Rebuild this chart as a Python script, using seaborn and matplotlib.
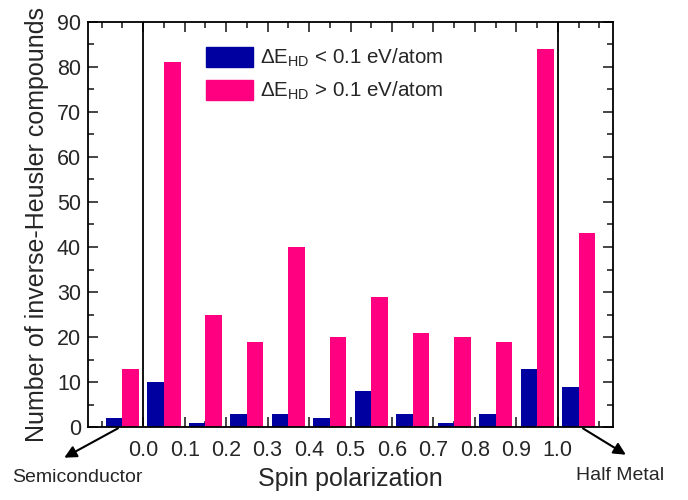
import numpy as np
import pandas as pd
import seaborn as sns
import matplotlib.pyplot as plt
import matplotlib.patches as mpatches
from matplotlib.ticker import MultipleLocator, FixedLocator

# bin centres of spin polarization (first bin = semiconductor, last = half metal)
centres = [-0.05, 0.05, 0.15, 0.25, 0.35, 0.45, 0.55, 0.65, 0.75, 0.85, 0.95, 1.05]
low_dE = [2, 10, 1, 3, 3, 2, 8, 3, 1, 3, 13, 9]
high_dE = [13, 81, 25, 19, 40, 20, 29, 21, 20, 19, 84, 43]
tick_vals = [0.0, 0.1, 0.2, 0.3, 0.4, 0.5, 0.6, 0.7, 0.8, 0.9, 1.0]
lab_low = r'ΔE$_{HD}$ < 0.1 eV/atom'
lab_high = r'ΔE$_{HD}$ > 0.1 eV/atom'

df = pd.DataFrame({'pol': centres * 2,
                   'count': low_dE + high_dE,
                   'grp': [lab_low] * len(centres) + [lab_high] * len(centres)})

sns.set_style('ticks')
plt.rcParams['font.family'] = ['Liberation Sans', 'DejaVu Sans']
plt.rcParams['mathtext.default'] = 'regular'

my_cols = {lab_low: '#0000A0', lab_high: '#FF0080'}

fig = plt.figure(figsize=(6.88, 5), dpi=100)
ax = fig.add_axes([0.128, 0.146, 0.763, 0.81])
sns.barplot(ax=ax, data=df, x='pol', y='count', hue='grp', palette=my_cols,
            native_scale=True, width=0.8, saturation=1, gap=0, linewidth=0,
            legend=False)

ax.axvline(0.0, color='k', lw=1.3, zorder=5)
ax.axvline(1.0, color='k', lw=1.3, zorder=5)

ax.set_xlim(-0.133, 1.133)
ax.set_ylim(0, 90)
ax.xaxis.set_major_locator(FixedLocator(tick_vals))
ax.set_xticklabels(['%.1f' % t for t in tick_vals])
ax.xaxis.set_minor_locator(MultipleLocator(0.05))
ax.yaxis.set_major_locator(MultipleLocator(10))
ax.yaxis.set_minor_locator(MultipleLocator(5))
ax.tick_params(which='both', direction='in', top=True, right=True, labelsize=15.5, width=1.2)
ax.tick_params(which='major', length=7)
ax.tick_params(which='minor', length=4)
ax.tick_params(axis='x', which='major', pad=9)
ax.tick_params(axis='y', which='major', pad=5)
for s in ax.spines.values():
    s.set_linewidth(1.3)
    s.set_color('k')

ax.set_xlabel('Spin polarization', fontsize=18, labelpad=5)
ax.set_ylabel('Number of inverse-Heusler compounds', fontsize=18, labelpad=6)

h1 = mpatches.Patch(color=my_cols[lab_low], label=lab_low)
h2 = mpatches.Patch(color=my_cols[lab_high], label=lab_high)
ax.legend(handles=[h1, h2], loc='upper left', bbox_to_anchor=(0.19, 0.985), frameon=False,
          fontsize=14.8, handlelength=2.25, handleheight=1.12, labelspacing=0.55, handletextpad=0.35)

# arrows marking the semiconductor and half-metal bins
ax.annotate('', xy=(-0.05, -0.079), xycoords='axes fraction', xytext=(-0.055, 0), textcoords='data',
            arrowprops=dict(arrowstyle='-|>', color='k', lw=1.5, mutation_scale=18), annotation_clip=False)
ax.annotate('', xy=(1.029, -0.072), xycoords='axes fraction', xytext=(1.055, 0), textcoords='data',
            arrowprops=dict(arrowstyle='-|>', color='k', lw=1.5, mutation_scale=18), annotation_clip=False)
fig.text(0.112, 0.046, 'Semiconductor', ha='center', va='center', fontsize=14)
fig.text(0.901, 0.048, 'Half Metal', ha='center', va='center', fontsize=14)

plt.savefig('out.png', dpi=100)
